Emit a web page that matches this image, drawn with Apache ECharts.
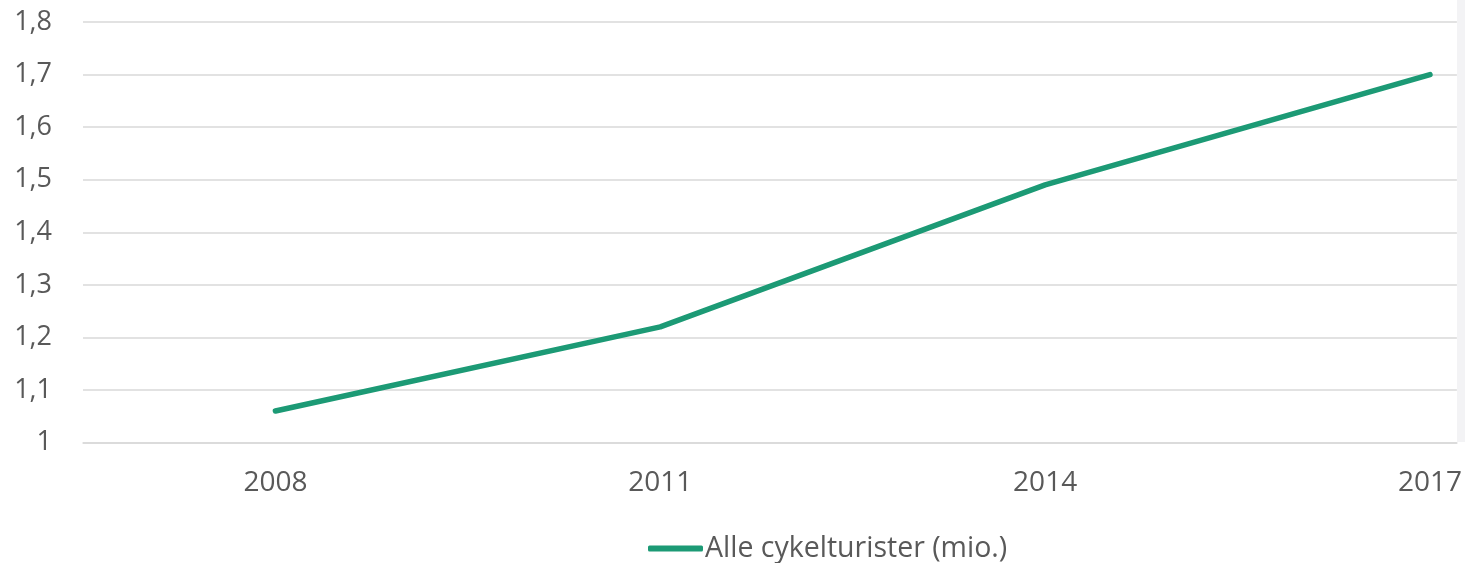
<!DOCTYPE html>
<html><head><meta charset="utf-8">
<script src="https://cdn.jsdelivr.net/npm/echarts@6/dist/echarts.min.js"></script>
<style>html,body{margin:0;padding:0;background:#fff}#c{width:1465px;height:563px}</style>
</head><body><div id="c"></div>
<script>
const categories = [2008, 2011, 2014, 2017];
const seriesName = 'Alle cykelturister (mio.)';
const values = [1.06, 1.22, 1.49, 1.70];
const yTicks = { min: 1, max: 1.8, interval: 0.1 };

const FONT = 'Open Sans';
const TXT = '#595959';
const chart = echarts.init(document.getElementById('c'), null, { renderer: 'canvas' });
chart.setOption({
  animation: false,
  backgroundColor: '#ffffff',
  grid: { left: 83, right: 8, top: 22, bottom: 120.5, containLabel: false },
  xAxis: {
    type: 'value', min: 2006.5, max: 2017.21,
    axisLine: { show: true, lineStyle: { color: '#d9d9d9', width: 1.5 } },
    axisTick: { show: false },
    axisLabel: { color: TXT, fontFamily: FONT, fontSize: 28, margin: 27,
      customValues: categories, formatter: v => String(v) },
    splitLine: { show: false }
  },
  yAxis: {
    type: 'value', min: yTicks.min, max: yTicks.max, interval: yTicks.interval,
    axisLine: { show: false }, axisTick: { show: false },
    axisLabel: { color: TXT, fontFamily: FONT, fontSize: 27, margin: 31,
      formatter: v => (Math.round(v * 10) / 10).toString().replace('.', ',') },
    splitLine: { lineStyle: { color: '#d9d9d9', width: 1.5 } }
  },
  legend: {
    left: 648, top: 534, padding: 0, icon: 'roundRect', itemWidth: 55, itemHeight: 6, itemGap: 10,
    textStyle: { color: TXT, fontFamily: FONT, fontSize: 28.5, padding: [0, 0, 0, -3] },
    data: [seriesName]
  },
  series: [{
    name: seriesName, type: 'line',
    data: categories.map((c, i) => [c, values[i]]),
    showSymbol: false, symbol: 'none',
    lineStyle: { color: '#1c9a75', width: 5.5, cap: 'round', join: 'round' },
    itemStyle: { color: '#1c9a75' }
  }],
  graphic: [{
    type: 'rect', z: 100, shape: { x: 1457, y: 0, width: 8, height: 442 },
    style: { fill: '#f3f3f5' }
  }]
});
</script></body></html>
